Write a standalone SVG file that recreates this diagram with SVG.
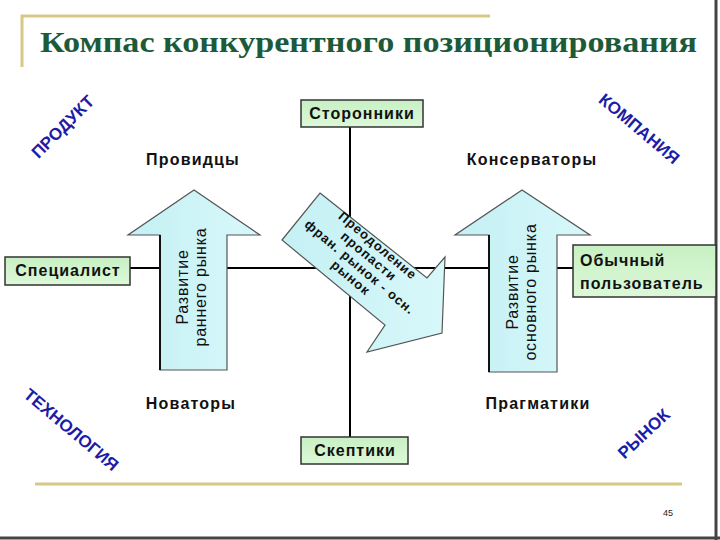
<svg xmlns="http://www.w3.org/2000/svg" width="720" height="540" viewBox="0 0 720 540">
<defs>
<linearGradient id="boxg" x1="0" y1="0" x2="0" y2="1">
<stop offset="0" stop-color="#c8f0c4"/><stop offset="1" stop-color="#dcf8d8"/>
</linearGradient>
<linearGradient id="arrg" x1="0" y1="0" x2="1" y2="0">
<stop offset="0" stop-color="#c4f0f4"/><stop offset="1" stop-color="#d8f8fa"/>
</linearGradient>
</defs>
<style>
.gold{stroke:#d8c888;stroke-width:3;fill:none}
.axis{stroke:#000;stroke-width:2;fill:none}
.box{fill:url(#boxg);stroke:#333;stroke-width:1.5}
.arrow{fill:url(#arrg);stroke:#555;stroke-width:1.2}
.bt{font-family:"Liberation Sans",Arial,sans-serif;font-weight:bold;font-size:16px;letter-spacing:1px;fill:#111}
.ql{font-family:"Liberation Sans",Arial,sans-serif;font-weight:bold;font-size:16px;letter-spacing:1.2px;fill:#111;text-anchor:middle}
.at{font-family:"Liberation Sans",Arial,sans-serif;font-size:16px;letter-spacing:0.8px;fill:#111;text-anchor:middle}
.dt{font-family:"Liberation Sans",Arial,sans-serif;font-weight:bold;font-size:13px;letter-spacing:1px;fill:#111;text-anchor:middle}
.corner{font-family:"Liberation Sans",Arial,sans-serif;font-weight:bold;font-size:17px;fill:#1c1ca8;text-anchor:middle;dominant-baseline:central}
</style>
<rect x="0" y="0" width="720" height="540" fill="#fff"/>
<line x1="716" y1="0" x2="716" y2="540" stroke="#444" stroke-width="3"/>
<line x1="0" y1="538" x2="720" y2="538" stroke="#444" stroke-width="3"/>
<g id="title">
<polyline class="gold" points="22,67 22,16 490,16"/>
<text x="40" y="52" font-family="'Liberation Serif','Times New Roman',serif" font-weight="bold" font-size="29" fill="#1d5a3a" textLength="657" lengthAdjust="spacingAndGlyphs">Компас конкурентного позиционирования</text>
<line class="gold" x1="35" y1="484" x2="682" y2="484"/>
<text x="668" y="516" font-family="'Liberation Sans',Arial,sans-serif" font-size="9" fill="#222" text-anchor="middle">45</text>
</g>
<g id="connectors">
<line class="axis" x1="350" y1="127" x2="350" y2="437"/>
<line class="axis" x1="130" y1="268" x2="573" y2="268"/>
</g>
<g id="arrow-early">
<polygon class="arrow" points="160,370 160,235 128,235 194,190 260,235 227,235 227,370"/>
<line x1="160" y1="235" x2="160" y2="370" stroke="#111" stroke-width="2"/>
<text class="at" transform="translate(188,287) rotate(-90)">Развитие</text>
<text class="at" transform="translate(206,287) rotate(-90)">раннего рынка</text>
</g>
<g id="arrow-main">
<polygon class="arrow" points="489,372 489,235 455,235 522,190 590,235 557,235 557,372"/>
<line x1="489" y1="235" x2="489" y2="372" stroke="#111" stroke-width="2"/>
<text class="at" transform="translate(518,292) rotate(-90)">Развитие</text>
<text class="at" transform="translate(536,292) rotate(-90)">основного рынка</text>
</g>
<g id="arrow-chasm">
<polygon class="arrow" points="320,193 427,278 445,257 442,333 367,352 385,325 282,240"/>
<g transform="translate(364,262) rotate(40)">
<text class="dt" x="0" y="-17">Преодоление</text>
<text class="dt" x="0" y="-3">пропасти</text>
<text class="dt" x="0" y="11">фран. рынок - осн.</text>
<text class="dt" x="0" y="25">рынок</text>
</g>
</g>
<g id="supporters">
<rect class="box" x="301" y="100" width="122" height="27"/>
<text class="bt" x="362" y="119" text-anchor="middle">Сторонники</text>
</g>
<g id="skeptics">
<rect class="box" x="301" y="437" width="107" height="27"/>
<text class="bt" x="355" y="456" text-anchor="middle">Скептики</text>
</g>
<g id="specialist">
<rect class="box" x="5" y="257" width="125" height="28"/>
<text class="bt" x="68" y="276" text-anchor="middle">Специалист</text>
</g>
<g id="user">
<rect class="box" x="573" y="245" width="143" height="52"/>
<text class="bt" x="580" y="266">Обычный</text>
<text class="bt" x="580" y="289">пользователь</text>
</g>
<g id="quadrants">
<text class="ql" x="193" y="165">Провидцы</text>
<text class="ql" x="532" y="165">Консерваторы</text>
<text class="ql" x="191" y="409">Новаторы</text>
<text class="ql" x="538" y="409">Прагматики</text>
</g>
<g id="corners">
<text class="corner" transform="translate(63,127) rotate(-45)">ПРОДУКТ</text>
<text class="corner" transform="translate(639,129) rotate(40)">КОМПАНИЯ</text>
<text class="corner" transform="translate(71,430) rotate(40)">ТЕХНОЛОГИЯ</text>
<text class="corner" transform="translate(644,434) rotate(-43)">РЫНОК</text>
</g>
</svg>
